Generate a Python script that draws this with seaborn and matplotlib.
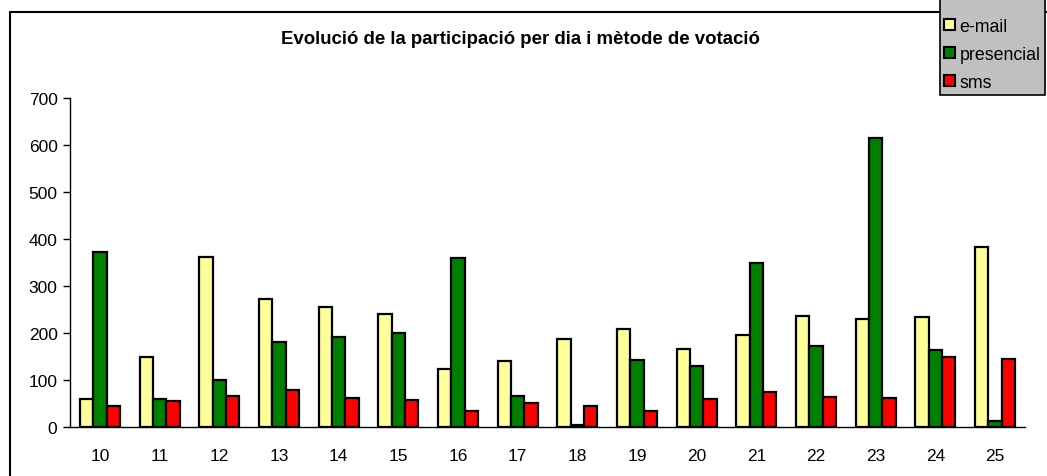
import pandas as pd
import seaborn as sns
import matplotlib.pyplot as plt
from matplotlib.patches import Patch
from matplotlib.lines import Line2D

days = [10, 11, 12, 13, 14, 15, 16, 17, 18, 19, 20, 21, 22, 23, 24, 25]
email = [60, 149, 361, 273, 255, 240, 123, 140, 188, 208, 167, 196, 236, 230, 234, 382]
presencial = [372, 60, 100, 181, 192, 200, 360, 65, 5, 142, 129, 350, 172, 615, 164, 12]
sms = [45, 56, 65, 79, 62, 57, 33, 52, 45, 33, 60, 74, 64, 62, 148, 145]
methods = ['e-mail', 'presencial', 'sms']
colors = ['#FFFF99', '#008000', '#FF0000']

rows = []
for i, d in enumerate(days):
    rows.append({'Dia': str(d), 'Metode': 'e-mail', 'Vots': email[i]})
    rows.append({'Dia': str(d), 'Metode': 'presencial', 'Vots': presencial[i]})
    rows.append({'Dia': str(d), 'Metode': 'sms', 'Vots': sms[i]})
df = pd.DataFrame(rows)

sns.set_style('white')
plt.rcParams['font.family'] = ['Liberation Sans', 'DejaVu Sans']
plt.rcParams['text.color'] = 'black'
plt.rcParams['xtick.color'] = 'black'
plt.rcParams['ytick.color'] = 'black'

W, H = 1047, 477
fig = plt.figure(figsize=(W / 100, H / 100), dpi=100)
ax = fig.add_axes([70 / W, (H - 428) / H, (1025 - 70) / W, (428 - 99) / H])

sns.barplot(data=df, x='Dia', y='Vots', hue='Metode', hue_order=methods,
            palette=colors, width=0.67, edgecolor='black', linewidth=1.6,
            saturation=1, ax=ax, legend=False)

ax.set_xlim(-0.5, len(days) - 0.5)
ax.set_ylim(0, 700)
ax.set_yticks(range(0, 701, 100))
ax.set_xlabel('')
ax.set_ylabel('')
for s in ['top', 'right']:
    ax.spines[s].set_visible(False)
for s in ['left', 'bottom']:
    ax.spines[s].set_color('black')
    ax.spines[s].set_linewidth(1.0)

ax.set_xticks([i - 0.5 for i in range(len(days) + 1)], minor=True)
ax.tick_params(axis='x', which='major', length=0, labelsize=12.5, pad=15,
               labelcolor='black')
ax.tick_params(axis='x', which='minor', length=5, width=1, color='black', direction='out')
ax.tick_params(axis='y', length=5, width=1, color='black', direction='out',
               labelsize=12.5, left=True, pad=4, labelcolor='black')

fig.text(520 / W, 1 - 40 / H, 'Evolució de la participació per dia i mètode de votació',
         ha='center', va='center', fontsize=13.4, fontweight='bold', color='black')

# outer chart frame
fig.add_artist(Line2D([10 / W, 10 / W], [0, 1 - 13 / H], transform=fig.transFigure,
                      color='black', lw=1.5))
fig.add_artist(Line2D([10 / W, 1], [1 - 13 / H, 1 - 13 / H], transform=fig.transFigure,
                      color='black', lw=1.5))

handles = [Patch(facecolor=c, edgecolor='black', linewidth=1.5) for c in colors]
leg = fig.legend(handles, methods, loc='lower right', title=' ', title_fontsize=10,
                 bbox_to_anchor=(1045 / W, 1 - 96 / H), bbox_transform=fig.transFigure,
                 frameon=True, fancybox=False, framealpha=1, facecolor='#C0C0C0',
                 edgecolor='black', fontsize=12.8, handlelength=0.6, handleheight=0.6,
                 handletextpad=0.25, labelspacing=0.62, borderpad=0.25, borderaxespad=0,
                 labelcolor='black')
leg.get_frame().set_linewidth(1.2)

fig.savefig('out.png', dpi=100)
